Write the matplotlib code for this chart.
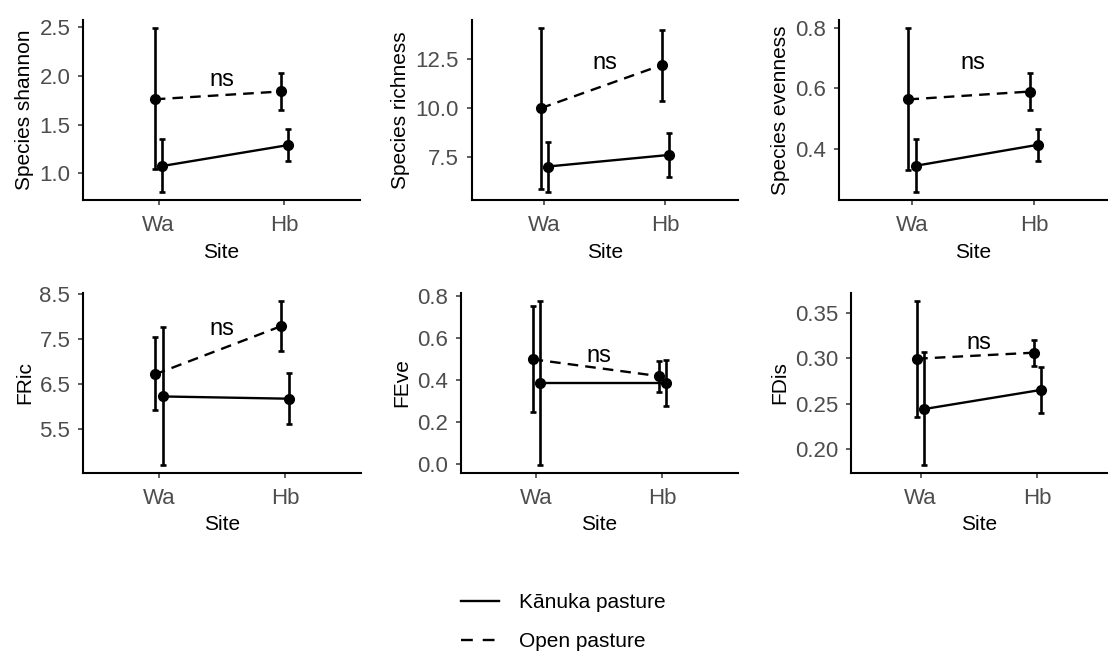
import matplotlib
matplotlib.use('Agg')
import matplotlib.pyplot as plt
from matplotlib.lines import Line2D

plt.rcParams['font.family'] = ['Liberation Sans', 'DejaVu Sans']

# ---------------- data ----------------
sites = ['Wa', 'Hb']
groups = ['Kānuka pasture', 'Open pasture']
metrics = ['Species shannon', 'Species richness', 'Species evenness', 'FRic', 'FEve', 'FDis']

kanuka_mean = [[1.075, 1.29], [7.03, 7.62], [0.344, 0.413], [6.23, 6.18], [0.387, 0.387], [0.244, 0.265]]
kanuka_low = [[0.81, 1.13], [5.74, 6.48], [0.258, 0.361], [4.72, 5.62], [-0.003, 0.276], [0.183, 0.240]]
kanuka_high = [[1.35, 1.45], [8.26, 8.72], [0.431, 0.466], [7.78, 6.74], [0.776, 0.495], [0.307, 0.290]]

open_mean = [[1.76, 1.84], [10.0, 12.2], [0.563, 0.589], [6.72, 7.79], [0.498, 0.418], [0.2994, 0.306]]
open_low = [[1.04, 1.65], [5.89, 10.37], [0.33, 0.529], [5.93, 7.23], [0.247, 0.34], [0.235, 0.291]]
open_high = [[2.49, 2.03], [14.08, 14.0], [0.798, 0.651], [7.54, 8.35], [0.75, 0.49], [0.363, 0.320]]

ytick_values = [[1.0, 1.5, 2.0, 2.5], [7.5, 10.0, 12.5], [0.4, 0.6, 0.8],
                [5.5, 6.5, 7.5, 8.5], [0.0, 0.2, 0.4, 0.6, 0.8], [0.20, 0.25, 0.30, 0.35]]
ytick_labels = [['1.0', '1.5', '2.0', '2.5'], ['7.5', '10.0', '12.5'], ['0.4', '0.6', '0.8'],
                ['5.5', '6.5', '7.5', '8.5'], ['0.0', '0.2', '0.4', '0.6', '0.8'],
                ['0.20', '0.25', '0.30', '0.35']]
sig_labels = ['ns', 'ns', 'ns', 'ns', 'ns', 'ns']
sig_y = [1.90, 12.0, 0.664, 7.60, 0.487, 0.310]

# ---------------- layout ----------------
W, H = 1109, 659
fig = plt.figure(figsize=(W / 100, H / 100), dpi=100)

# panel rectangles in pixels: left, top, right, bottom
rects = [(83, 20, 360, 200), (471.7, 20, 738, 200), (839, 20, 1107, 200),
         (83, 292.7, 360.7, 472.7), (460.7, 292.7, 738, 472.7), (850.7, 292.7, 1107, 472.7)]

TICK_COLOR = '#4D4D4D'
FS = 15
TFS = 16
LW = 1.7
DASH = (0, (4.5, 3))
LEG_DASH = (0, (5, 4.2))
dodge = {'open': -0.03, 'kanuka': 0.03}
xpos = [1, 2]

for i, (l, t, r, b) in enumerate(rects):
    ax = fig.add_axes([l / W, 1 - b / H, (r - l) / W, (b - t) / H])
    for key, mean, low, high, ls in [
        ('open', open_mean[i], open_low[i], open_high[i], DASH),
        ('kanuka', kanuka_mean[i], kanuka_low[i], kanuka_high[i], '-'),
    ]:
        xs = [x + dodge[key] for x in xpos]
        yerr = [[m - lo for m, lo in zip(mean, low)], [hi - m for m, hi in zip(mean, high)]]
        ax.errorbar(xs, mean, yerr=yerr, fmt='none', ecolor='black', elinewidth=1.9,
                    capsize=2.4, capthick=1.9, zorder=2)
        ax.plot(xs, mean, color='black', linestyle=ls, linewidth=LW, zorder=3)
        ax.plot(xs, mean, 'o', color='black', markersize=7.0, zorder=4)

    allv = kanuka_low[i] + kanuka_high[i] + open_low[i] + open_high[i]
    lo, hi = min(allv), max(allv)
    pad = (hi - lo) * 0.05
    ax.set_ylim(lo - pad, hi + pad)
    ax.set_xlim(0.4, 2.6)

    ax.text(1.5, sig_y[i], sig_labels[i], ha='center', va='baseline', fontsize=17, color='black')

    ax.set_xticks(xpos)
    ax.set_xticklabels(sites)
    ax.set_yticks(ytick_values[i])
    ax.set_yticklabels(ytick_labels[i])
    ax.tick_params(axis='both', colors='#333333', labelcolor=TICK_COLOR, labelsize=TFS,
                   length=3.6, width=1.1)
    ax.tick_params(axis='x', pad=7.5)
    ax.tick_params(axis='y', pad=5.5)
    ax.set_xlabel('Site', fontsize=FS, color='black', labelpad=4.5)
    ax.set_ylabel(metrics[i], fontsize=FS, color='black', labelpad=4)
    for s in ['top', 'right']:
        ax.spines[s].set_visible(False)
    for s in ['left', 'bottom']:
        ax.spines[s].set_linewidth(1.5)
        ax.spines[s].set_color('black')

handles = [Line2D([], [], color='black', linestyle='-', linewidth=LW),
           Line2D([], [], color='black', linestyle=LEG_DASH, linewidth=LW)]
fig.legend(handles, groups, loc='upper left', bbox_to_anchor=(461 / W, 1 - 593 / H),
           frameon=False, fontsize=FS, handlelength=1.8, handletextpad=1.0,
           labelspacing=0.95, borderpad=0, borderaxespad=0)

fig.savefig('out.png', dpi=100, facecolor='white')
